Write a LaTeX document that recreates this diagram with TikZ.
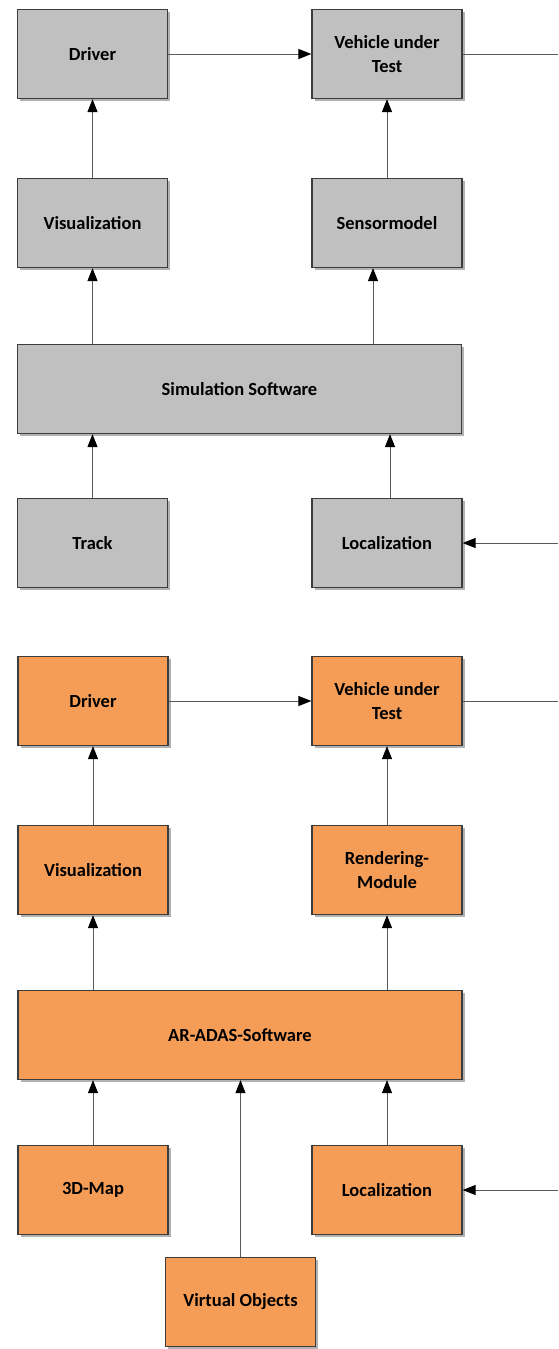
\documentclass[tikz,border=0pt]{standalone}
\usepackage{fontspec}
\setmainfont{Carlito}
\usetikzlibrary{arrows.meta,shadows}
\definecolor{simgray}{RGB}{192,192,192}
\definecolor{arorange}{RGB}{245,157,87}
\definecolor{framegray}{RGB}{60,60,60}

\begin{document}
\begin{tikzpicture}[x=1pt,y=-1pt]
  \tikzstyle{box}=[draw=framegray, line width=1.2pt, minimum width=150pt, minimum height=89pt,
    align=center, inner sep=2pt, font=\fontsize{18.5}{24}\selectfont\bfseries,
    drop shadow={shadow xshift=2.5pt, shadow yshift=-2.5pt, opacity=.3, fill=black}]
  \tikzstyle{sim}=[box, fill=simgray]
  \tikzstyle{ar}=[box, fill=arorange]
  \tikzstyle{wire}=[draw=black!65, line width=1pt]
  \tikzstyle{link}=[wire, -{Triangle[length=13pt,width=10pt,fill=black,color=black]}]
  \useasboundingbox (0,0) rectangle (558,1349);

  % simulation
  \node[sim] (drvA) at (92.5,54) {Driver};
  \node[sim] (vutA) at (387,54) {Vehicle under\\Test};
  \node[sim] (visA) at (92.5,223) {Visualization};
  \node[sim] (senA) at (387,223) {Sensormodel};
  \node[sim, minimum width=444pt] (simA) at (239.5,389) {Simulation Software};
  \node[sim] (trkA) at (92.5,543) {Track};
  \node[sim] (locA) at (387,543) {Localization};
  \coordinate (outA) at (558,54);
  \coordinate (inA) at (558,543);

  \draw[link] (drvA) -- (vutA);
  \draw[wire] (vutA) -- (outA);
  \draw[link] (visA) -- (drvA);
  \draw[link] (senA) -- (vutA);
  \draw[link] (simA.north -| visA) -- (visA);
  \draw[link] ([xshift=-14pt]senA.south |- simA.north) -- ([xshift=-14pt]senA.south);
  \draw[link] (trkA) -- (trkA |- simA.south);
  \draw[link] ([xshift=3pt]locA.north) -- ([xshift=3pt]locA.north |- simA.south);
  \draw[link] (inA) -- (locA);

  % augmented reality
  \node[ar] (drvB) at (93,701) {Driver};
  \node[ar] (vutB) at (387,701) {Vehicle under\\Test};
  \node[ar] (visB) at (93,870) {Visualization};
  \node[ar] (renB) at (387,870) {Rendering-\\Module};
  \node[ar, minimum width=444pt] (arB) at (240,1035) {AR-ADAS-Software};
  \node[ar] (mapB) at (93,1190) {3D-Map};
  \node[ar] (locB) at (387,1190) {Localization};
  \node[ar] (objB) at (240.5,1302) {Virtual Objects};
  \coordinate (outB) at (558,701);
  \coordinate (inB) at (558,1190);

  \draw[link] (drvB) -- (vutB);
  \draw[wire] (vutB) -- (outB);
  \draw[link] (visB) -- (drvB);
  \draw[link] (renB) -- (vutB);
  \draw[link] (arB.north -| visB) -- (visB);
  \draw[link] (arB.north -| renB) -- (renB);
  \draw[link] (mapB) -- (mapB |- arB.south);
  \draw[link] (objB) -- (objB |- arB.south);
  \draw[link] (locB) -- (locB |- arB.south);
  \draw[link] (inB) -- (locB);
\end{tikzpicture}
\end{document}
